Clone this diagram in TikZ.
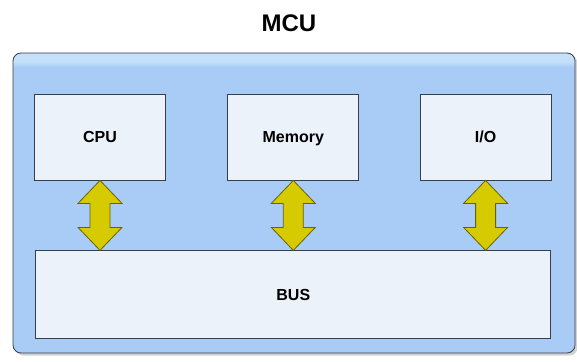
\documentclass[tikz,border=0pt]{standalone}
\usepackage{fontspec}
\setmainfont{Liberation Sans}
\usetikzlibrary{positioning,shadows}

\definecolor{mcublue}{RGB}{168,204,245}
\definecolor{mcutop}{RGB}{196,224,251}
\definecolor{boxfill}{RGB}{236,242,250}
\definecolor{boxline}{RGB}{55,62,72}
\definecolor{busyellow}{RGB}{214,202,0}
\definecolor{busolive}{RGB}{105,98,10}
\pgfdeclareverticalshading{mcushade}{100bp}{color(0bp)=(mcublue); color(72.6bp)=(mcublue); color(73.6bp)=(mcutop); color(100bp)=(mcutop)}

\begin{document}
\begin{tikzpicture}[x=1pt,y=-1pt]
 	\tikzstyle{outer}=[rectangle, rounded corners=8pt, draw=boxline, line width=0.8pt, shading=mcushade, drop shadow={shadow xshift=2.5pt, shadow yshift=-2.5pt, fill=black!35}]
 	\tikzstyle{unit}=[rectangle, draw=boxline, line width=0.8pt, fill=boxfill, minimum width=131pt, minimum height=86pt, text height=11.5pt, text depth=0pt, font=\fontsize{16}{19}\selectfont\bfseries, node distance=61.5pt]
 	\tikzstyle{connect}=[fill=busyellow, draw=busolive, line width=0.8pt, line join=miter]
 	\useasboundingbox (0,0) rectangle (577,361);
 	\node[outer, minimum width=562pt, minimum height=300pt] (mcu) at (294,203) {};
 	\node[font=\fontsize{24}{28}\selectfont\bfseries] (title) at (289,23) {MCU};
 	\node[unit] (cpu) at (100,137) {CPU};
 	\node[unit] (mem) [right=of cpu] {Memory};
 	\node[unit] (io) [right=60.5pt of mem] {I/O};
 	\node[unit, minimum width=515pt, minimum height=88pt] (bus) [below=70pt of mem] {BUS};
 	\draw[connect] (cpu.south) -- ++(22,23) -- ++(-12,0) -- ++(0,24) -- ++(12,0) -- (cpu.south |- bus.north) -- ++(-22,-23) -- ++(12,0) -- ++(0,-24) -- ++(-12,0) -- cycle;
 	\draw[connect] (mem.south) -- ++(22,23) -- ++(-12,0) -- ++(0,24) -- ++(12,0) -- (mem.south |- bus.north) -- ++(-22,-23) -- ++(12,0) -- ++(0,-24) -- ++(-12,0) -- cycle;
 	\draw[connect] (io.south) -- ++(22,23) -- ++(-12,0) -- ++(0,24) -- ++(12,0) -- (io.south |- bus.north) -- ++(-22,-23) -- ++(12,0) -- ++(0,-24) -- ++(-12,0) -- cycle;
\end{tikzpicture}
\end{document}
